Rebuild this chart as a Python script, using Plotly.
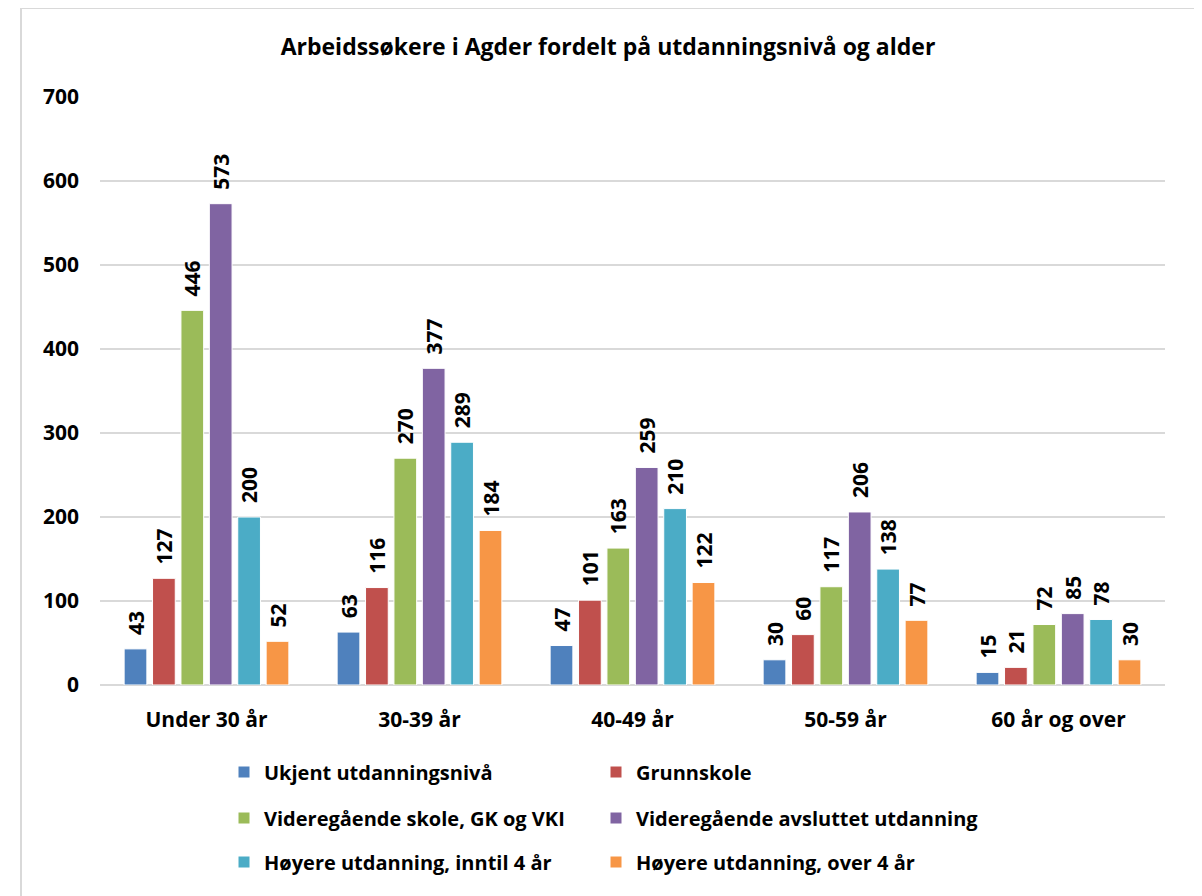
import plotly.graph_objects as go

categories = ["Under 30 år", "30-39 år", "40-49 år", "50-59 år", "60 år og over"]
series_names = [
    "Ukjent utdanningsnivå",
    "Grunnskole",
    "Videregående skole, GK og VKI",
    "Videregående avsluttet utdanning",
    "Høyere utdanning, inntil 4 år",
    "Høyere utdanning, over 4 år",
]
ukjent = [43, 63, 47, 30, 15]
grunnskole = [127, 116, 101, 60, 21]
vgs_gk_vki = [446, 270, 163, 117, 72]
vgs_avsluttet = [573, 377, 259, 206, 85]
hoyere_inntil4 = [200, 289, 210, 138, 78]
hoyere_over4 = [52, 184, 122, 77, 30]
series_values = [ukjent, grunnskole, vgs_gk_vki, vgs_avsluttet, hoyere_inntil4, hoyere_over4]
colors = ["#4f81bd", "#c0504d", "#9bbb59", "#8064a2", "#4bacc6", "#f79646"]

FONT = "Open Sans, Noto Sans, sans-serif"
NB = "\u00a0"

W, H = 1202, 896
OFF = 8  # page body margin
# target plot area on screen: x 100..1165, y 97..685
L, T = 100 - OFF, 97 - OFF
R = W - (1165 - OFF)
B = H - (685 - OFF)
pw, ph = 1065, 588

def px_x(x):
    return (x - 100) / pw

def px_y(y):
    return (685 - y) / ph

legend_cols = [224, 596]
legend_rows = [772, 818, 862]

fig = go.Figure()
legend_layouts = {}
for i, (name, vals, col) in enumerate(zip(series_names, series_values, colors)):
    lid = "legend" if i == 0 else f"legend{i + 1}"
    fig.add_trace(go.Bar(
        x=categories, y=vals, name=name, legend=lid, showlegend=True,
        marker=dict(color=col, line=dict(color="white", width=1)),
        texttemplate=NB * 2 + "%{y}", textposition="outside", textangle=-90,
        constraintext="none", cliponaxis=False,
        textfont=dict(family=FONT, size=21, color="black", weight="bold"),
    ))
    legend_layouts[lid] = dict(
        xanchor="left", yanchor="middle",
        x=px_x(legend_cols[i % 2]), y=px_y(legend_rows[i // 2]),
        font=dict(family=FONT, size=20, color="black", weight="bold"),
        bgcolor="rgba(0,0,0,0)", itemclick=False, itemdoubleclick=False,
    )

fig.update_layout(
    width=W, height=H, showlegend=True,
    margin=dict(l=L, r=R, t=T, b=B, autoexpand=False),
    paper_bgcolor="white", plot_bgcolor="white",
    title=dict(text="<b>Arbeidssøkere i Agder fordelt på utdanningsnivå og alder</b>",
               x=(608 - OFF) / W, xanchor="center", y=1 - (47 - OFF) / H, yanchor="middle",
               font=dict(family=FONT, size=23, color="black")),
    barmode="group", bargap=0.2, bargroupgap=0.2,
    xaxis=dict(showgrid=False, showline=False, ticks="",
               tickfont=dict(family=FONT, size=21, color="black", weight="bold"),
               ticklabelstandoff=20),
    yaxis=dict(range=[0, 700], dtick=100, showgrid=True, gridcolor="#d9d9d9", gridwidth=2,
               zeroline=True, zerolinecolor="#d9d9d9", zerolinewidth=2,
               showline=False, ticks="",
               tickfont=dict(family=FONT, size=21, color="black", weight="bold"),
               ticklabelstandoff=20),
    shapes=[dict(type="rect", xref="paper", yref="paper",
                 x0=px_x(21), x1=px_x(1195), y0=px_y(910), y1=px_y(8),
                 line=dict(color="#d9d9d9", width=2), fillcolor="rgba(0,0,0,0)",
                 layer="below")],
    **legend_layouts,
)

fig.write_html("out.html")
